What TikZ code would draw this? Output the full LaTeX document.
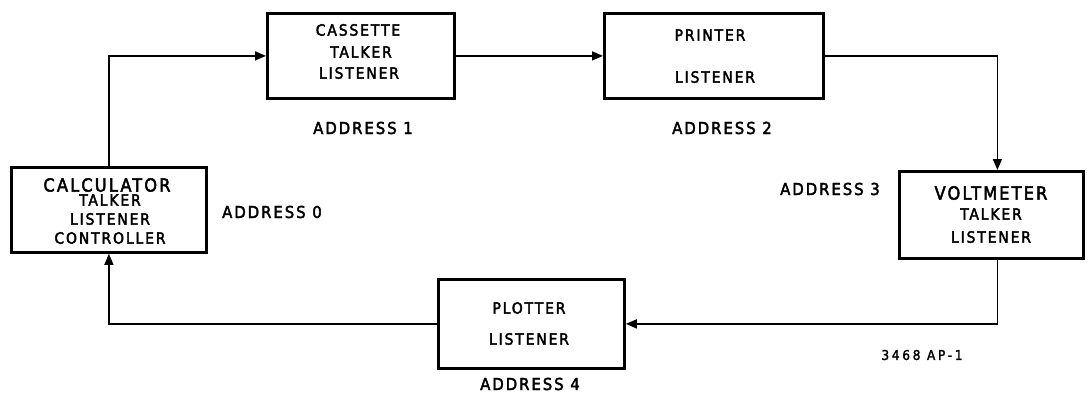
\documentclass[tikz,border=0pt]{standalone}
\usepackage{fontspec}
\setmainfont{DejaVu Sans}
\newfontfamily\plotfont[LetterSpace=12,FakeBold=2.5]{DejaVu Sans Condensed}
\newfontfamily\plotfontw[LetterSpace=20,FakeBold=2]{DejaVu Sans Condensed}
\usetikzlibrary{arrows.meta}
\begin{document}
\begin{tikzpicture}[x=1pt,y=-1pt,
  devbox/.style={draw,line width=2.8pt,minimum width=#1,inner sep=0pt,anchor=north west},
  lbl/.style={inner sep=0pt,font=\plotfont\fontsize{16.5}{16}\selectfont},
  big/.style={inner sep=0pt,font=\plotfont\fontsize{18}{18}\selectfont},
  small/.style={inner sep=0pt,font=\plotfont\fontsize{15.5}{15}\selectfont},
  conn/.style={line width=1.5pt,-{Triangle[length=11pt,width=9pt]}}]
\useasboundingbox (0,0) rectangle (1089,394);
% boxes
\node[devbox=195pt,minimum height=85pt] (calc) at (10,166) {};
\node[devbox=187pt,minimum height=85pt] (cass) at (266,12) {};
\node[devbox=219pt,minimum height=85pt] (print) at (603,12) {};
\node[devbox=184pt,minimum height=87pt] (volt) at (898,170) {};
\node[devbox=186pt,minimum height=89pt] (plot) at (437,278) {};
% box texts
\node[big] (calcA) at (107,185) {CALCULATOR};
\node[small] (calcB) at (110,200) {TALKER};
\node[small] (calcC) at (110,219) {LISTENER};
\node[small] (calcD) at (110,238) {CONTROLLER};
\node[small] (cassA) at (358,30) {CASSETTE};
\node[small] (cassB) at (361,52) {TALKER};
\node[small] (cassC) at (359,73) {LISTENER};
\node[small] (printA) at (710,35) {PRINTER};
\node[small] (printB) at (715,77) {LISTENER};
\node[big] (voltA) at (991,193) {VOLTMETER};
\node[small] (voltB) at (991,214) {TALKER};
\node[small] (voltC) at (991,237) {LISTENER};
\node[small] (plotA) at (529,308) {PLOTTER};
\node[small] (plotB) at (529,339) {LISTENER};
% addresses
\node[lbl,anchor=west] (a0) at (222,212) {ADDRESS 0};
\node[lbl] (a1) at (363,128) {ADDRESS 1};
\node[lbl] (a2) at (722,128) {ADDRESS 2};
\node[lbl,anchor=west] (a3) at (780,189) {ADDRESS 3};
\node[lbl] (a4) at (530,384) {ADDRESS 4};
\node[inner sep=0pt,font=\plotfontw\fontsize{13.5}{13}\selectfont] (fig) at (922,355) {3468 AP-1};
% connectors
\coordinate (vtop) at ([xshift=6pt]volt.north);
\coordinate (vbot) at ([xshift=6pt]volt.south);
\draw[conn] (calc.north) |- (cass.west);
\draw[conn] (cass.east) -- (print.west);
\draw[conn] (print.east) -| (vtop);
\draw[conn] (vbot) |- (plot.east);
\draw[conn] (plot.west) -| (calc.south);
\end{tikzpicture}
\end{document}
